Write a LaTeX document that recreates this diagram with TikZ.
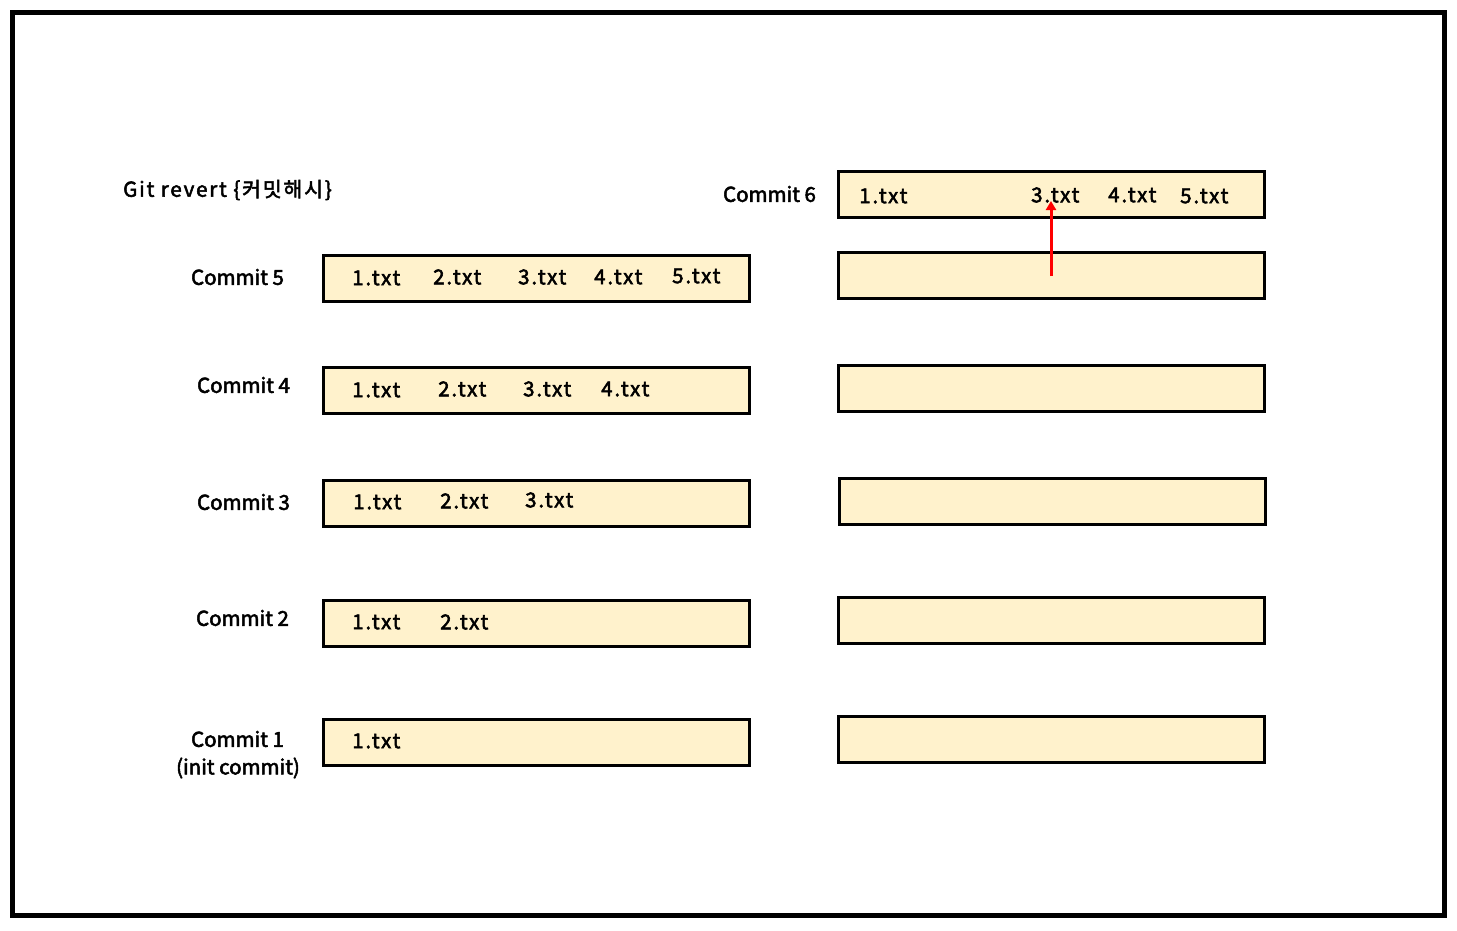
\documentclass[tikz,border=0pt]{standalone}
\usepackage{fontspec}
\setmainfont{Noto Sans CJK KR}
\newfontfamily\krb{Noto Sans CJK KR}[FakeBold=2.5]
\newfontfamily\krbs{Noto Sans CJK KR}[FakeBold=2.5,LetterSpace=9]
\usetikzlibrary{arrows.meta}
\definecolor{cream}{HTML}{FFF2CC}
\definecolor{arrowred}{HTML}{FF0000}
\begin{document}
\begin{tikzpicture}[x=1pt,y=-1pt,
  frame/.style={draw=black,line width=5pt},
  box/.style={draw=black,line width=3pt,fill=cream,minimum width=425.5pt,minimum height=45.5pt,inner sep=0pt,outer sep=0pt},
  lbl/.style={font=\krb\fontsize{20.5}{24}\selectfont,inner sep=0pt},
  file/.style={font=\krbs\fontsize{20.5}{24}\selectfont,inner sep=0pt,anchor=west},
  revarrow/.style={draw=arrowred,line width=3pt,-{Triangle[length=9pt,width=10pt]}}]
\useasboundingbox (0,0) rectangle (1457,931);
\draw[frame] (12.5,12.5) rectangle (1444.5,915.5);

% left column boxes
\node[box] (b5) at (536.5,278.5) {};
\node[box] (b4) at (536.5,390.5) {};
\node[box] (b3) at (536.5,503.5) {};
\node[box] (b2) at (536.5,623.5) {};
\node[box] (b1) at (536.5,742.5) {};
% right column boxes
\node[box] (r6) at (1051.5,194.5) {};
\node[box] (r5) at (1051.5,275.5) {};
\node[box] (r4) at (1051.5,388.5) {};
\node[box] (r3) at (1052.5,501.5) {};
\node[box] (r2) at (1051.5,620.5) {};
\node[box] (r1) at (1051.5,739.5) {};

% labels
\node[lbl,anchor=west,font=\krbs\fontsize{20.5}{24}\selectfont] (title) at (123,190) {Git revert \{커밋해시\}};
\node[lbl] (c6) at (769.5,194) {Commit 6};
\node[lbl] (c5) at (237.5,277) {Commit 5};
\node[lbl] (c4) at (243.5,385) {Commit 4};
\node[lbl] (c3) at (243.5,502) {Commit 3};
\node[lbl] (c2) at (242.5,618) {Commit 2};
\node[lbl] (c1) at (237.5,739) {Commit 1};
\node[lbl] (c1b) at (238,768) {(init commit)};

% files commit 5
\node[file] (f51) at (352,278) {1.txt};
\node[file] (f52) at (433,277) {2.txt};
\node[file] (f53) at (518,277) {3.txt};
\node[file] (f54) at (594,277) {4.txt};
\node[file] (f55) at (672,276) {5.txt};
% commit 4
\node[file] (f41) at (352,390) {1.txt};
\node[file] (f42) at (438,389) {2.txt};
\node[file] (f43) at (523,389) {3.txt};
\node[file] (f44) at (601,389) {4.txt};
% commit 3
\node[file] (f31) at (353,502) {1.txt};
\node[file] (f32) at (440,501) {2.txt};
\node[file] (f33) at (525,500) {3.txt};
% commit 2
\node[file] (f21) at (352,622) {1.txt};
\node[file] (f22) at (440,622) {2.txt};
% commit 1
\node[file] (f11) at (352,741) {1.txt};
% commit 6
\node[file] (f61) at (859,196) {1.txt};
\node[file] (f63) at (1031,195) {3.txt};
\node[file] (f64) at (1108,195) {4.txt};
\node[file] (f65) at (1180,196) {5.txt};

\coordinate (arrstart) at (1051,276);
\coordinate (arrend) at (1051,201);
\draw[revarrow] (arrstart) -- (arrend);
\end{tikzpicture}
\end{document}
